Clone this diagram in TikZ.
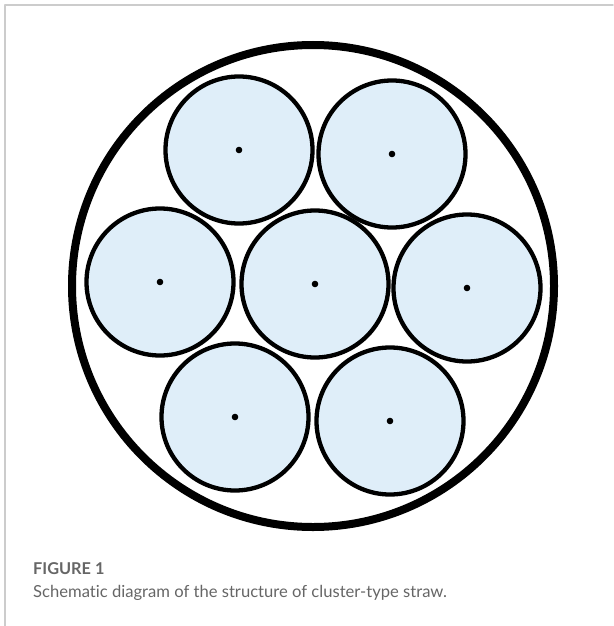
\documentclass[tikz,border=0pt]{standalone}
\usepackage{fontspec}
\setmainfont[Ligatures=NoCommon]{Lato}
\usetikzlibrary{positioning}
\definecolor{strawblue}{HTML}{DFEEF9}
\definecolor{framegray}{HTML}{CCCCCC}
\definecolor{captiongray}{HTML}{666666}

\begin{document}
\begin{tikzpicture}[x=1pt, y=-1pt, line cap=round, line join=round]
      \useasboundingbox (0,0) rectangle (613,626);

      % Frame
      \draw[framegray, line width=1.5pt] (5,626) -- (5,5) -- (613,5);

      % Outer sheath
      \node[circle, draw=black, line width=8pt, minimum size=482pt, inner sep=0pt] (sheath) at (313,286) {};

      % Tubes, top row
      \node[circle, draw=black, fill=strawblue, line width=4.3pt, minimum size=147pt, inner sep=0pt] (T1) at (239,150) {};
      \fill (T1.center) circle (3.3pt);
      \node[circle, draw=black, fill=strawblue, line width=4.3pt, minimum size=147pt, inner sep=0pt] (T2) at (392,154) {};
      \fill (T2.center) circle (3.3pt);

      % Tubes, middle row
      \node[circle, draw=black, fill=strawblue, line width=4.3pt, minimum size=147pt, inner sep=0pt] (M1) at (160,282) {};
      \fill (M1.center) circle (3.3pt);
      \node[circle, draw=black, fill=strawblue, line width=4.3pt, minimum size=147pt, inner sep=0pt] (M2) at (315,284) {};
      \fill (M2.center) circle (3.3pt);
      \node[circle, draw=black, fill=strawblue, line width=4.3pt, minimum size=147pt, inner sep=0pt] (M3) at (467,288) {};
      \fill (M3.center) circle (3.3pt);

      % Tubes, bottom row
      \node[circle, draw=black, fill=strawblue, line width=4.3pt, minimum size=147pt, inner sep=0pt] (B1) at (235,417) {};
      \fill (B1.center) circle (3.3pt);
      \node[circle, draw=black, fill=strawblue, line width=4.3pt, minimum size=147pt, inner sep=0pt] (B2) at (390,421) {};
      \fill (B2.center) circle (3.3pt);

      % Caption
      \node[anchor=base west, inner sep=0pt, font=\bfseries\fontsize{16.3}{19}\selectfont, text=captiongray] (figlabel) at (33,574) {FIGURE 1};
      \node[anchor=base west, inner sep=0pt, font=\fontsize{16.6}{19}\selectfont, text=captiongray] (figtext) at (33,597) {Schematic diagram of the structure of cluster-type straw.};
    \end{tikzpicture}
\end{document}
